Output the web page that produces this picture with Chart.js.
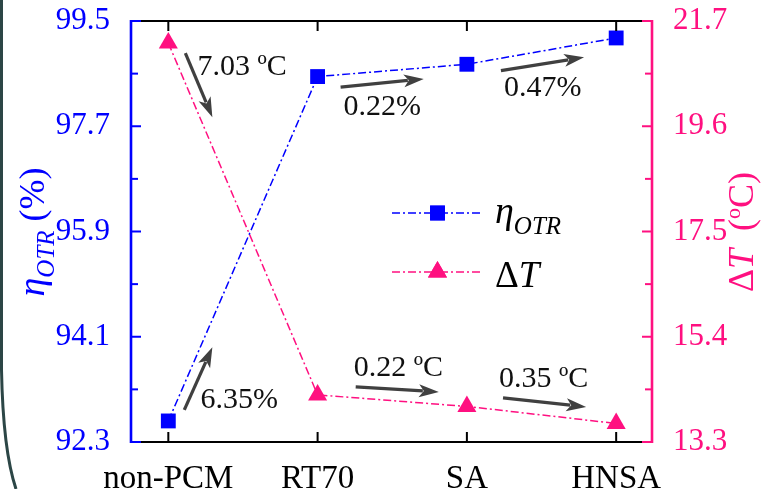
<!DOCTYPE html>
<html><head><meta charset="utf-8">
<script src="https://cdn.jsdelivr.net/npm/chart.js@4/dist/chart.umd.min.js"></script>
<style>html,body{margin:0;padding:0;background:#fff}#wrap{width:765px;height:489px;position:relative}</style>
</head><body><div id="wrap"><canvas id="c" width="765" height="489"></canvas></div>
<script>
// ---- data ----
const categories = ['non-PCM', 'RT70', 'SA', 'HNSA'];
const etaOTR = [92.66, 98.55, 98.76, 99.21];      // %  (left axis)
const deltaT = [21.26, 14.24, 14.01, 13.67];      // ºC (right axis)
const leftTicks = [92.3, 94.1, 95.9, 97.7, 99.5];
const rightTicks = [13.3, 15.4, 17.5, 19.6, 21.7];
// annotation arrows, in data units (x = category index, y on given axis)
const noteLabels = ['7.03 ºC', '6.35%', '0.22%', '0.47%', '0.22 ºC', '0.35 ºC'];
const noteAxis   = ['y1', 'y', 'y', 'y', 'y1', 'y1'];
const noteFrom   = [[0.114, 21.06], [0.107, 92.85], [1.154, 98.37], [2.228, 98.65], [1.255, 14.40], [2.242, 14.18]];
const noteTo     = [[0.295, 19.78], [0.295, 93.92], [1.711, 98.51], [2.785, 98.88], [1.812, 14.30], [2.799, 14.00]];
const noteText   = [[0.195, 20.78], [0.215, 93.02], [1.174, 98.03], [2.248, 98.35], [1.242, 14.78], [2.215, 14.56]];

const SERIF = "'Liberation Serif','Times New Roman',serif";
const BLUE = '#0000ff', PINK = '#ff1080', ARROW = '#404040';
const DASH = [8, 3, 2, 3];

function drawArrow(ctx, x0, y0, x1, y1) {
  const a = Math.atan2(y1 - y0, x1 - x0), hl = 20, hw = 6.5;
  const bx = x1 - Math.cos(a) * hl, by = y1 - Math.sin(a) * hl;
  ctx.save();
  ctx.strokeStyle = ARROW; ctx.lineWidth = 3.2;
  ctx.beginPath(); ctx.moveTo(x0, y0); ctx.lineTo(bx + Math.cos(a) * 4, by + Math.sin(a) * 4); ctx.stroke();
  ctx.fillStyle = ARROW; ctx.beginPath();
  ctx.moveTo(x1, y1);
  ctx.lineTo(bx - Math.sin(a) * hw, by + Math.cos(a) * hw);
  ctx.lineTo(bx + Math.cos(a) * 5, by + Math.sin(a) * 5);
  ctx.lineTo(bx + Math.sin(a) * hw, by - Math.cos(a) * hw);
  ctx.closePath(); ctx.fill();
  ctx.restore();
}

function drawPieces(ctx, pieces, x, y) {
  for (const [t, f, dy] of pieces) {
    ctx.font = f; ctx.fillText(t, x, y + dy); x += ctx.measureText(t).width;
  }
  return x;
}
function piecesWidth(ctx, pieces) {
  let w = 0; for (const [t, f] of pieces) { ctx.font = f; w += ctx.measureText(t).width; } return w;
}

const decor = {
  id: 'decor',
  beforeDraw(chart) {
    const ctx = chart.ctx;
    ctx.save();
    ctx.fillStyle = '#fff'; ctx.fillRect(0, 0, chart.width, chart.height);
    ctx.strokeStyle = '#2c4646'; ctx.lineWidth = 3;
    ctx.beginPath(); ctx.moveTo(1.5, 0); ctx.lineTo(1.5, 370); ctx.quadraticCurveTo(3, 450, 16, 489); ctx.stroke();
    ctx.restore();
  },
  afterDraw(chart) {
    const ctx = chart.ctx, ca = chart.chartArea;
    const xs = chart.scales.x, ys = chart.scales.y, ys1 = chart.scales.y1;
    ctx.save();
    ctx.lineCap = 'butt';
    ctx.strokeStyle = '#000'; ctx.lineWidth = 2;
    ctx.beginPath(); ctx.moveTo(ca.left, ca.top); ctx.lineTo(ca.right, ca.top);
    ctx.moveTo(ca.left, ca.bottom); ctx.lineTo(ca.right, ca.bottom); ctx.stroke();
    categories.forEach((c, i) => {
      const px = xs.getPixelForValue(i);
      ctx.beginPath(); ctx.moveTo(px, ca.top); ctx.lineTo(px, ca.top + 10);
      ctx.moveTo(px, ca.bottom); ctx.lineTo(px, ca.bottom - 10); ctx.stroke();
    });
    ctx.strokeStyle = BLUE; ctx.lineWidth = 2.6;
    ctx.beginPath(); ctx.moveTo(ca.left, ca.top - 1); ctx.lineTo(ca.left, ca.bottom + 1); ctx.stroke();
    ctx.lineWidth = 2;
    leftTicks.forEach((v, i) => {
      const py = ys.getPixelForValue(v);
      ctx.beginPath(); ctx.moveTo(ca.left, py); ctx.lineTo(ca.left + 10, py); ctx.stroke();
      if (i < leftTicks.length - 1) {
        const pm = ys.getPixelForValue((v + leftTicks[i + 1]) / 2);
        ctx.beginPath(); ctx.moveTo(ca.left, pm); ctx.lineTo(ca.left + 7, pm); ctx.stroke();
      }
    });
    ctx.strokeStyle = PINK; ctx.lineWidth = 2.6;
    ctx.beginPath(); ctx.moveTo(ca.right, ca.top - 1); ctx.lineTo(ca.right, ca.bottom + 1); ctx.stroke();
    ctx.lineWidth = 2;
    rightTicks.forEach((v, i) => {
      const py = ys1.getPixelForValue(v);
      ctx.beginPath(); ctx.moveTo(ca.right, py); ctx.lineTo(ca.right - 10, py); ctx.stroke();
      if (i < rightTicks.length - 1) {
        const pm = ys1.getPixelForValue((v + rightTicks[i + 1]) / 2);
        ctx.beginPath(); ctx.moveTo(ca.right, pm); ctx.lineTo(ca.right - 7, pm); ctx.stroke();
      }
    });

    noteLabels.forEach((t, i) => {
      const sc = chart.scales[noteAxis[i]];
      drawArrow(ctx, xs.getPixelForValue(noteFrom[i][0]), sc.getPixelForValue(noteFrom[i][1]),
                     xs.getPixelForValue(noteTo[i][0]), sc.getPixelForValue(noteTo[i][1]));
      ctx.fillStyle = '#111'; ctx.font = '30px ' + SERIF;
      ctx.textAlign = 'left'; ctx.textBaseline = 'middle';
      ctx.fillText(t, xs.getPixelForValue(noteText[i][0]), sc.getPixelForValue(noteText[i][1]));
    });

    const lx0 = ca.left + 261, lx1 = ca.left + 352, lmid = (lx0 + lx1) / 2, tx = ca.left + 364;
    const rows = [[ca.top + 192, BLUE, 'rect'], [ca.top + 251, PINK, 'triangle']];
    rows.forEach(([y, col, st]) => {
      ctx.strokeStyle = col; ctx.lineWidth = 1.5; ctx.setLineDash(DASH);
      ctx.beginPath(); ctx.moveTo(lx0, y); ctx.lineTo(lx1, y); ctx.stroke();
      ctx.setLineDash([]);
      ctx.fillStyle = col;
      Chart.helpers.drawPoint(ctx, { pointStyle: st, radius: st === 'rect' ? 10.5 : 11, rotation: 0, borderWidth: 0 }, lmid, y);
      ctx.fill();
    });
    ctx.fillStyle = '#000'; ctx.textAlign = 'left'; ctx.textBaseline = 'alphabetic';
    drawPieces(ctx, [['η', 'italic 38px ' + SERIF, 0], ['OTR', 'italic 25px ' + SERIF, 11]], tx, ca.top + 202);
    drawPieces(ctx, [['Δ', '37px ' + SERIF, 0], ['T', 'italic 37px ' + SERIF, 0]], tx, ca.top + 266);

    ctx.fillStyle = BLUE;
    let pcs = [['η', 'italic 38px ' + SERIF, 0], ['OTR', 'italic 25px ' + SERIF, 10], [' (%)', '36px ' + SERIF, 0]];
    let w = piecesWidth(ctx, pcs);
    ctx.save(); ctx.translate(44, 232); ctx.rotate(-Math.PI / 2);
    drawPieces(ctx, pcs, -w / 2, 0); ctx.restore();
    ctx.fillStyle = PINK;
    pcs = [['Δ', '36px ' + SERIF, 0], ['T', 'italic 36px ' + SERIF, 0], ['  (', '36px ' + SERIF, 0], ['o', '22px ' + SERIF, -13], ['C)', '36px ' + SERIF, 0]];
    w = piecesWidth(ctx, pcs);
    ctx.save(); ctx.translate(753, 232); ctx.rotate(-Math.PI / 2);
    drawPieces(ctx, pcs, -w / 2, 0); ctx.restore();

    ctx.restore();
  }
};

new Chart(document.getElementById('c'), {
  type: 'line',
  data: {
    datasets: [
      {
        label: 'ηOTR', yAxisID: 'y',
        data: etaOTR.map((v, i) => ({ x: i, y: v })),
        borderColor: BLUE, backgroundColor: BLUE, borderWidth: 1.5, borderDash: DASH,
        pointStyle: 'rect', pointRadius: 10.5, pointBorderWidth: 0, pointBackgroundColor: BLUE,
        clip: false, tension: 0
      },
      {
        label: 'ΔT', yAxisID: 'y1',
        data: deltaT.map((v, i) => ({ x: i, y: v })),
        borderColor: PINK, backgroundColor: PINK, borderWidth: 1.5, borderDash: DASH,
        pointStyle: 'triangle', pointRadius: 11, pointBorderWidth: 0, pointBackgroundColor: PINK,
        clip: false, tension: 0
      }
    ]
  },
  options: {
    responsive: false, animation: false, devicePixelRatio: 1,
    layout: { padding: { top: 21, left: 0, right: 0, bottom: 0 } },
    plugins: { legend: { display: false }, tooltip: { enabled: false } },
    scales: {
      x: {
        type: 'linear', position: 'bottom', min: -0.25, max: 3.24,
        afterBuildTicks: s => { s.ticks = categories.map((c, i) => ({ value: i })); },
        afterFit: s => { s.height = 47; },
        grid: { display: false }, border: { display: false },
        ticks: { autoSkip: false, maxRotation: 0, padding: 10, color: '#000',
          font: { family: SERIF, size: 33 }, callback: v => categories[v] }
      },
      y: {
        type: 'linear', position: 'left', min: 92.3, max: 99.5,
        afterBuildTicks: s => { s.ticks = leftTicks.map(v => ({ value: v })); },
        afterFit: s => { s.width = 131; },
        grid: { display: false }, border: { display: false },
        ticks: { autoSkip: false, padding: 13, color: BLUE,
          font: { family: SERIF, size: 31, lineHeight: 0.4 }, callback: v => v.toFixed(1) }
      },
      y1: {
        type: 'linear', position: 'right', min: 13.3, max: 21.7,
        afterBuildTicks: s => { s.ticks = rightTicks.map(v => ({ value: v })); },
        afterFit: s => { s.width = 113; },
        grid: { display: false }, border: { display: false },
        ticks: { autoSkip: false, padding: 13, color: PINK,
          font: { family: SERIF, size: 31, lineHeight: 0.4 }, callback: v => v.toFixed(1) }
      }
    }
  },
  plugins: [decor]
});
</script></body></html>
